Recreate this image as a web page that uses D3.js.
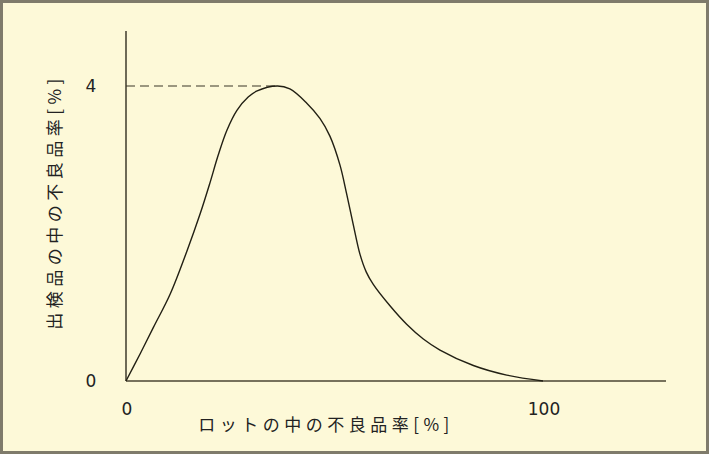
<!DOCTYPE html>
<html>
<head>
<meta charset="utf-8">
<script src="https://cdn.jsdelivr.net/npm/d3@7"></script>
<style>
  html, body { margin: 0; padding: 0; background: #fdf9d8; }
  svg { display: block; }
</style>
</head>
<body>
<svg id="chart" width="709" height="454"></svg>
<script>
// Data
const lotDefectRate = [0, 3.4, 6.6, 10.6, 14.6, 17.8, 20.1, 22.1, 24.2, 26.6, 29.3, 31.3, 36.3, 39.3, 43.3, 46.5, 48.9, 51.3, 52.9, 54.5, 56.1, 57.6, 59.3, 63.3, 67.3, 71.3, 75.3, 83.3, 91.3, 100];
const outgoingDefectRate = [0, 0.37, 0.73, 1.18, 1.76, 2.27, 2.68, 3.06, 3.40, 3.67, 3.85, 3.93, 4.0, 3.96, 3.77, 3.56, 3.32, 2.93, 2.54, 2.12, 1.72, 1.48, 1.31, 1.02, 0.77, 0.57, 0.42, 0.21, 0.08, 0];
const xTicks = [0, 100];
const yTicks = [0, 4];
const peakValue = 4;
const peakX = 36.3;
const xTitle = "ロットの中の不良品率[%]";
const yTitle = "出検品の中の不良品率[%]";

const W = 709, H = 454;
const svg = d3.select("#chart");

svg.append("rect").attr("x", 1.5).attr("y", 1.5).attr("width", W - 3).attr("height", H - 3)
  .attr("fill", "#fdf9d8").attr("stroke", "#7f7b6b").attr("stroke-width", 3);

const x = d3.scaleLinear().domain([0, 100]).range([126, 543]);
const y = d3.scaleLinear().domain([0, 4]).range([381, 86]);
const xEnd = x.invert(666);
const yTop = y.invert(31);

// axes lines
svg.append("line").attr("x1", x(0)).attr("x2", x(xEnd)).attr("y1", y(0)).attr("y2", y(0))
  .attr("stroke", "#77725c").attr("stroke-width", 2);
svg.append("line").attr("x1", x(0)).attr("x2", x(0)).attr("y1", y(yTop)).attr("y2", y(0))
  .attr("stroke", "#4a4636").attr("stroke-width", 1.6);

// dashed peak line
svg.append("line").attr("x1", x(0)).attr("x2", x(peakX)).attr("y1", y(peakValue)).attr("y2", y(peakValue))
  .attr("stroke", "#3a3626").attr("stroke-width", 1.2).attr("stroke-dasharray", "9,5");

// curve
const pts = lotDefectRate.map((d, i) => [d, outgoingDefectRate[i]]);
const line = d3.line().x(d => x(d[0])).y(d => y(d[1])).curve(d3.curveCatmullRom.alpha(0.5));
svg.append("path").attr("d", line(pts)).attr("fill", "none")
  .attr("stroke", "#222014").attr("stroke-width", 1.4);

const font = "'DejaVu Sans', 'Noto Sans', sans-serif";
// tick labels
svg.selectAll(".xt").data(xTicks).enter().append("text")
  .attr("x", d => x(d) + 1).attr("y", 409).attr("dy", "0.35em").attr("text-anchor", "middle")
  .attr("font-family", font).attr("font-size", 17).attr("fill", "#222").text(d => d);
svg.selectAll(".yt").data(yTicks).enter().append("text")
  .attr("x", 91).attr("y", d => y(d)).attr("dy", "0.35em").attr("text-anchor", "middle")
  .attr("font-family", font).attr("font-size", 17).attr("fill", "#222").text(d => d);

const cjk = "'Noto Sans CJK JP', sans-serif";
svg.append("text").attr("x", 326).attr("y", 425).attr("dy", "0.35em").attr("text-anchor", "middle")
  .attr("font-family", cjk).attr("font-size", 17).attr("letter-spacing", 4.5).attr("fill", "#222")
  .text(xTitle);
svg.append("text").attr("transform", "translate(55,202) rotate(-90)").attr("dy", "0.35em")
  .attr("text-anchor", "middle")
  .attr("font-family", cjk).attr("font-size", 17).attr("letter-spacing", 4.5).attr("fill", "#222")
  .text(yTitle);
</script>
</body>
</html>
